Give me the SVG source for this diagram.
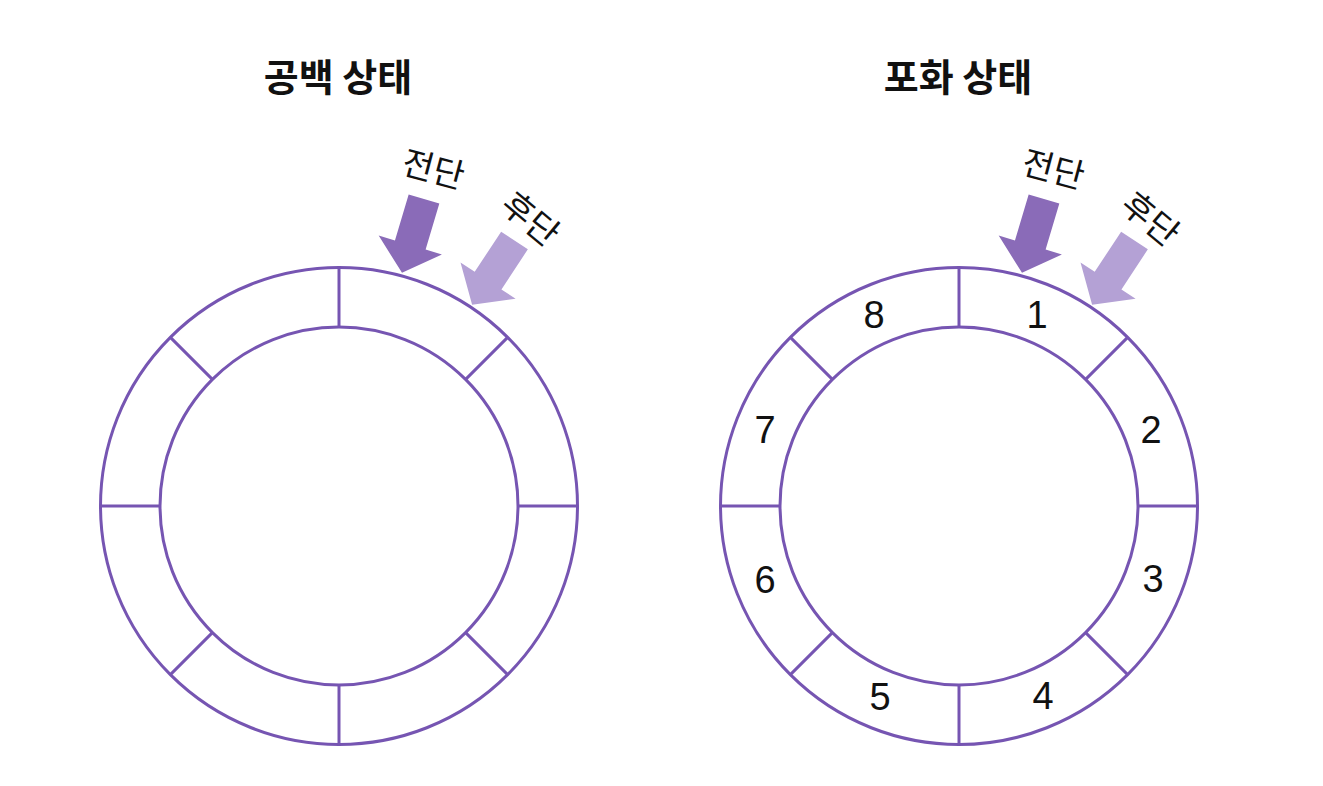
<svg xmlns="http://www.w3.org/2000/svg" xmlns:xlink="http://www.w3.org/1999/xlink" width="1323" height="786" viewBox="0 0 1323 786">
<style>
.ring{fill:none;stroke:#7655b2;stroke-width:3}
.title{font-family:"Noto Sans CJK KR","Noto Sans",sans-serif;font-weight:700;font-size:38px;fill:#111;text-anchor:middle}
.lbl{font-family:"Noto Sans CJK KR","Noto Sans",sans-serif;font-size:34px;fill:#111;text-anchor:middle;dominant-baseline:central}
.num{font-family:"Liberation Sans",Arial,sans-serif;font-size:38px;fill:#111;text-anchor:middle}
.front{fill:#8a6bb8}
.rear{fill:#b4a1d5}
</style>
<defs>
<g id="ringShape" class="ring">
<circle cx="0" cy="0" r="238.5"/>
<circle cx="0" cy="0" r="179"/>
<line x1="0" y1="-238.5" x2="0" y2="-179"/>
<line x1="0" y1="238.5" x2="0" y2="179"/>
<line x1="-238.5" y1="0" x2="-179" y2="0"/>
<line x1="238.5" y1="0" x2="179" y2="0"/>
<line x1="126.6" y1="-126.6" x2="168.6" y2="-168.6"/>
<line x1="-126.6" y1="-126.6" x2="-168.6" y2="-168.6"/>
<line x1="126.6" y1="126.6" x2="168.6" y2="168.6"/>
<line x1="-126.6" y1="126.6" x2="-168.6" y2="168.6"/>
</g>
<polygon id="arrowShape" points="-16,0 16,0 16,48 33,48 0,77 -33,48 -16,48"/>
</defs>
<rect width="1323" height="786" fill="#fff"/>

<g id="empty-title"><text class="title" x="338" y="91">공백 상태</text></g>
<g id="full-title"><text class="title" x="958" y="91">포화 상태</text></g>

<g id="empty-ring"><use xlink:href="#ringShape" transform="translate(339,506)"/></g>
<g id="full-ring">
<use xlink:href="#ringShape" transform="translate(959,506)"/>
<text class="num" x="1037" y="328">1</text>
<text class="num" x="1151" y="443">2</text>
<text class="num" x="1153" y="592">3</text>
<text class="num" x="1043" y="709">4</text>
<text class="num" x="880" y="710">5</text>
<text class="num" x="765" y="593">6</text>
<text class="num" x="765" y="443">7</text>
<text class="num" x="874" y="328">8</text>
</g>

<g id="connectors">
<g id="empty-front-arrow"><use xlink:href="#arrowShape" class="front" transform="translate(424,199) rotate(16.6)"/></g>
<g id="empty-rear-arrow"><use xlink:href="#arrowShape" class="rear" transform="translate(514.5,240.5) rotate(33.4)"/></g>
<g id="full-front-arrow"><use xlink:href="#arrowShape" class="front" transform="translate(1044,199) rotate(16.6)"/></g>
<g id="full-rear-arrow"><use xlink:href="#arrowShape" class="rear" transform="translate(1134.5,240.5) rotate(33.4)"/></g>
</g>

<g id="empty-front-label"><text class="lbl" transform="translate(434,167) rotate(15)">전단</text></g>
<g id="empty-rear-label"><text class="lbl" transform="translate(532,217) rotate(40)">후단</text></g>
<g id="full-front-label"><text class="lbl" transform="translate(1054,167) rotate(15)">전단</text></g>
<g id="full-rear-label"><text class="lbl" transform="translate(1152,217) rotate(40)">후단</text></g>
</svg>
